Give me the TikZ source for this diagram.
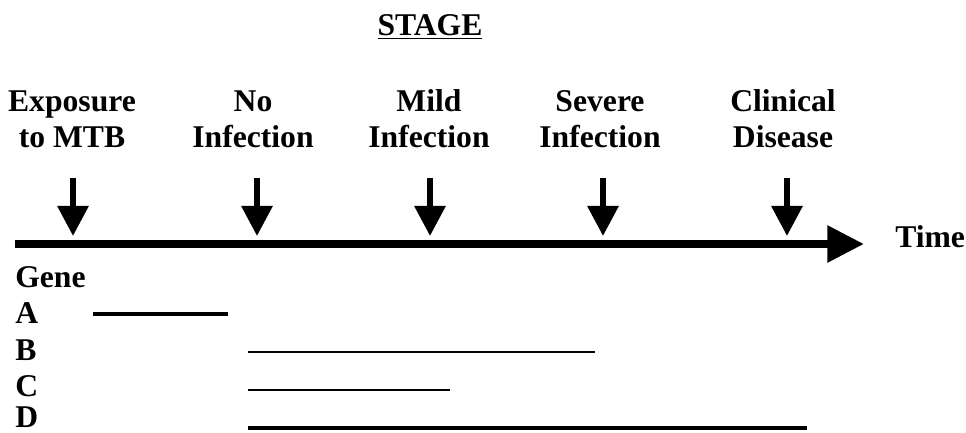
\documentclass[tikz,border=0pt]{standalone}
\usepackage{fontspec}
\setmainfont{Liberation Serif}
\usetikzlibrary{arrows.meta}

\begin{document}
\begin{tikzpicture}[x=0.025cm,y=-0.025cm,
  every node/.style={font=\fontsize{22.5}{25}\selectfont\bfseries,inner sep=0pt},
  stage/.style={align=center,anchor=base},
  gene/.style={anchor=base west},
  down/.style={line width=4.3pt,-{Triangle[length=21.5pt,width=21.5pt]}},
  axis/.style={line width=5.7pt,-{Triangle[length=26pt,width=25pt]}}]
\useasboundingbox (0,0) rectangle (966,433);
\node[anchor=base] (title) at (430,36) {\underline{STAGE}};
\foreach \x/\lx/\t [count=\i] in {73/72/{Exposure\\to MTB},257/253/{No\\Infection},
    430/429/{Mild\\Infection},603/600/{Severe\\Infection},787/783/{Clinical\\Disease}}{
  \node[stage] (s\i) at (\lx,147) {\t};
  \coordinate (up\i) at (\x,178);
  \coordinate (hit\i) at (\x,236);
  \draw[down] (up\i) -- (hit\i);
}
\coordinate (t0) at (15,244);
\coordinate (t1) at (864,244);
\draw[axis] (t0) -- (t1);
\node[anchor=base west] (time) at (895,247) {Time};
\node[gene] (gene) at (15,287) {Gene};
\foreach \g/\y in {A/323,B/360,C/396,D/427}
  \node[gene] (g\g) at (15,\y) {\g};
\coordinate (a0) at (93,314);  \coordinate (a1) at (228,314);
\coordinate (b0) at (248,352); \coordinate (b1) at (595,352);
\coordinate (c0) at (248,390); \coordinate (c1) at (450,390);
\coordinate (d0) at (248,428); \coordinate (d1) at (807,428);
\draw[line width=2.8pt] (a0) -- (a1);
\draw[line width=1.5pt] (b0) -- (b1);
\draw[line width=1.5pt] (c0) -- (c1);
\draw[line width=2.8pt] (d0) -- (d1);
\end{tikzpicture}
\end{document}
